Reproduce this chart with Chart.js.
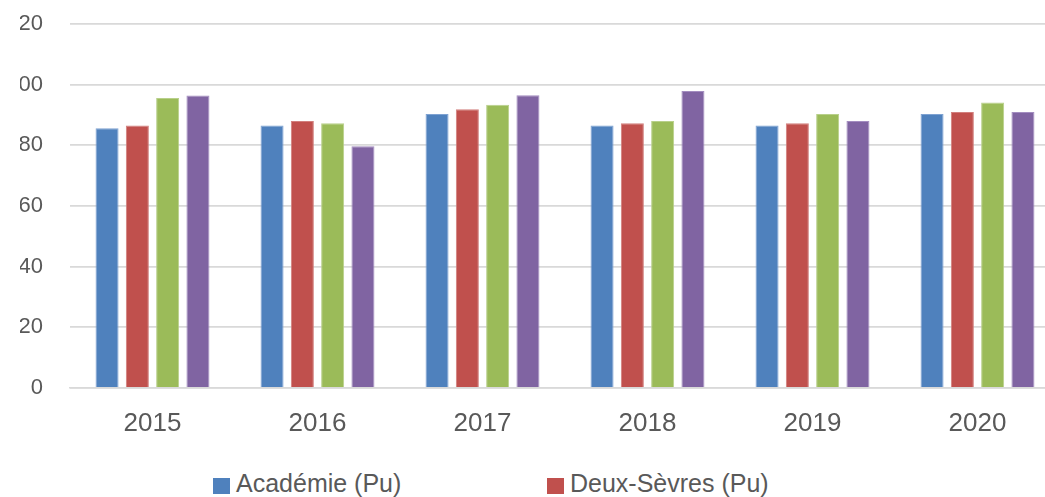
<!DOCTYPE html>
<html><head><meta charset="utf-8">
<script src="https://cdn.jsdelivr.net/npm/chart.js@4/dist/chart.umd.min.js"></script>
<style>
html,body{margin:0;padding:0;background:#fff;overflow:hidden;width:1045px;height:497px;position:relative}
#clip{position:absolute;left:20px;top:0;width:1025px;height:497px;overflow:hidden}
#box{position:absolute;left:-20px;top:0;width:1062px;height:440px}
#legend{position:absolute;left:213px;top:472px;display:grid;grid-template-columns:334px auto;row-gap:14px;font-family:"Liberation Sans",Arial,sans-serif;font-size:25px;color:#595959}
.item{display:flex;align-items:center;height:22px;white-space:nowrap}
.sw{width:17px;height:16px;margin-right:6px;flex:none;position:relative;top:3px}
</style></head>
<body>
<div id="clip"><div id="box"><canvas id="c"></canvas></div></div>
<div id="legend"></div>
<script>
const categories = ['2015','2016','2017','2018','2019','2020'];
const seriesNames = ['Académie (Pu)','Deux-Sèvres (Pu)','Académie (Pr)','Deux-Sèvres (Pr)'];
const academiePu = [85.6, 86.5, 90.3, 86.5, 86.5, 90.3];
const deuxSevresPu = [86.5, 88.0, 91.9, 87.3, 87.3, 91.0];
const academiePr = [95.6, 87.3, 93.4, 88.0, 90.3, 94.1];
const deuxSevresPr = [96.4, 79.7, 96.5, 97.9, 88.0, 91.0];
const yTicks = [0, 20, 40, 60, 80, 100, 120];

const fills = ['#4F81BD','#C0504D','#9BBB59','#8064A2'];
const borders = ['#7EA2D2','#D27F7D','#B8D08A','#A38DC0'];
const values = [academiePu, deuxSevresPu, academiePr, deuxSevresPr];

const chart = new Chart(document.getElementById('c'), {
  type: 'bar',
  data: {
    labels: categories,
    datasets: seriesNames.map((n, i) => ({
      label: n, data: values[i], backgroundColor: fills[i], borderColor: borders[i],
      borderWidth: 1, categoryPercentage: 0.7345, barPercentage: 0.76
    }))
  },
  options: {
    responsive: true, maintainAspectRatio: false, animation: false,
    layout: { padding: { top: 24, right: 2, left: 0, bottom: 0 } },
    plugins: { legend: { display: false }, tooltip: { enabled: false } },
    scales: {
      x: {
        grid: { display: false, drawTicks: false },
        border: { display: true, color: '#d9d9d9', width: 1.5 },
        ticks: { color: '#595959', font: { family: 'Liberation Sans', size: 26 }, padding: 20, maxRotation: 0 },
        afterFit: s => { s.height = 52; }
      },
      y: {
        min: 0, max: 120,
        afterBuildTicks: s => { s.ticks = yTicks.map(v => ({ value: v })); },
        grid: { color: '#d9d9d9', lineWidth: 1.8, drawTicks: true, tickLength: 27, tickColor: 'rgba(0,0,0,0)' },
        border: { display: false },
        ticks: { color: '#595959', font: { family: 'Liberation Sans', size: 22 }, padding: 0 },
        afterFit: s => { s.width = 70; }
      }
    }
  }
});

const lg = document.getElementById('legend');
chart.data.datasets.forEach(ds => {
  const it = document.createElement('div'); it.className = 'item';
  const sw = document.createElement('span'); sw.className = 'sw'; sw.style.background = ds.backgroundColor;
  const tx = document.createElement('span'); tx.textContent = ds.label;
  it.appendChild(sw); it.appendChild(tx); lg.appendChild(it);
});
</script>
</body></html>
